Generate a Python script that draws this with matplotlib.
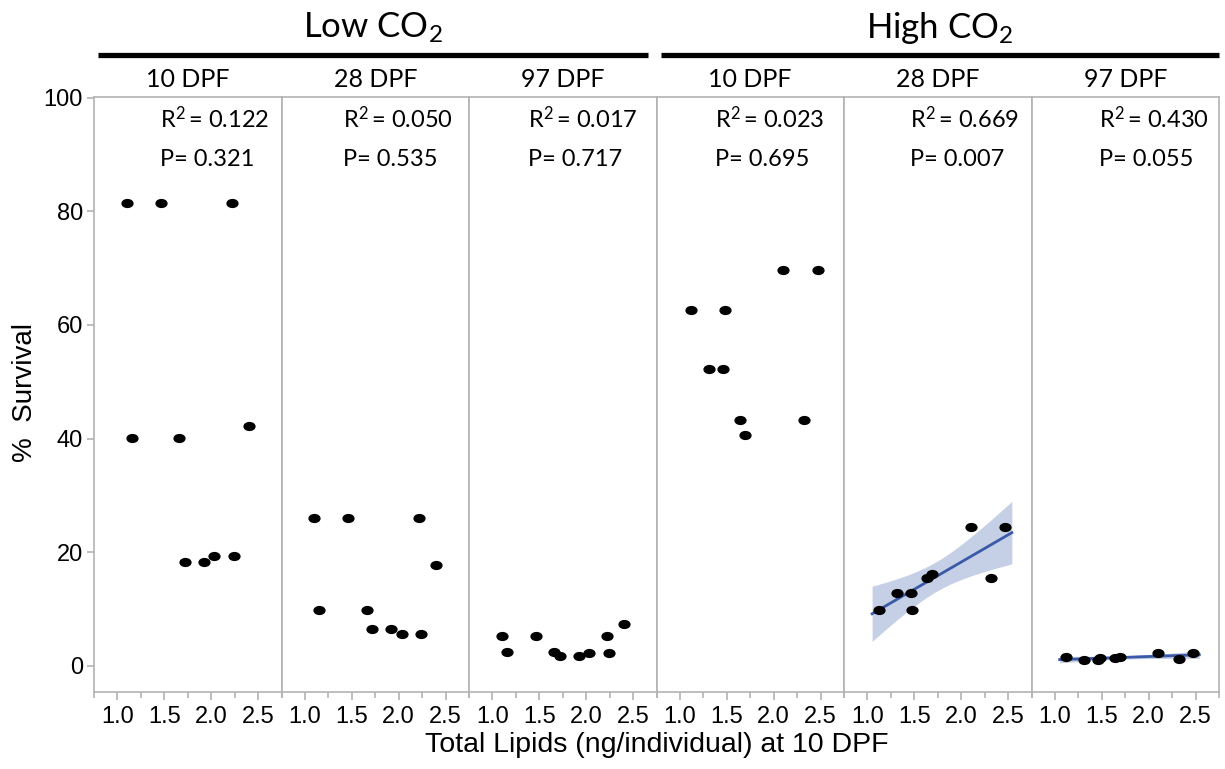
import numpy as np
import matplotlib
matplotlib.use("Agg")
import matplotlib.pyplot as plt
import matplotlib.transforms as mtrans
from matplotlib.path import Path
from matplotlib.lines import Line2D

plt.rcParams['mathtext.fontset'] = 'custom'
plt.rcParams['mathtext.rm'] = 'Lato'
plt.rcParams['mathtext.it'] = 'Lato:italic'
plt.rcParams['mathtext.bf'] = 'Lato:bold'

# ---------------- data ----------------
groups = ["Low CO$_\\mathregular{2}$", "High CO$_\\mathregular{2}$"]
stages = ["10 DPF", "28 DPF", "97 DPF"]

low_x = [1.10, 1.15, 1.46, 1.66, 1.72, 1.92, 2.03, 2.22, 2.24, 2.40]
low_10 = [81.4, 40.1, 81.4, 40.1, 18.3, 18.3, 19.3, 81.4, 19.3, 42.2]
low_28 = [26.1, 9.9, 26.1, 9.9, 6.5, 6.5, 5.6, 26.1, 5.6, 17.8]
low_97 = [5.2, 2.5, 5.2, 2.5, 1.7, 1.7, 2.2, 5.2, 2.2, 7.4]

high_x = [1.12, 1.31, 1.46, 1.48, 1.64, 1.69, 2.10, 2.32, 2.47]
high_10 = [62.6, 52.2, 52.2, 62.6, 43.3, 40.7, 69.6, 43.3, 69.6]
high_28 = [9.9, 12.8, 12.8, 9.9, 15.5, 16.1, 24.4, 15.5, 24.4]
high_97 = [1.5, 1.0, 1.0, 1.4, 1.3, 1.6, 2.2, 1.2, 2.2]

r2_vals = ["0.122", "0.050", "0.017", "0.023", "0.669", "0.430"]
p_vals = ["0.321", "0.535", "0.717", "0.695", "0.007", "0.055"]
show_fit = [False, False, False, False, True, True]

x_ticks = [1.0, 1.5, 2.0, 2.5]
y_ticks = [0, 20, 40, 60, 80, 100]

panels = [(low_x, low_10), (low_x, low_28), (low_x, low_97),
          (high_x, high_10), (high_x, high_28), (high_x, high_97)]
panel_labels = stages * 2

# ---------------- style ----------------
W, H = 1225, 769
fig = plt.figure(figsize=(W / 100, H / 100), dpi=100)
gray = '#b3b3b3'
line_col = '#3a5aa8'
band_col = '#c5cfe6'
T975_DF7 = 2.365

circ = Path.unit_circle()
ell = Path(circ.vertices * np.array([1.0, 0.72]), circ.codes)

left_px, right_px, top_px, bot_px = 94, 1219, 97, 692
pw = (right_px - left_px) / 6
text_off = [0.35, 0.33, 0.315, 0.31, 0.35, 0.36]

for i, (xs, ys) in enumerate(panels):
    ax = fig.add_axes([(left_px + i * pw) / W, 1 - bot_px / H, pw / W, (bot_px - top_px) / H])
    xs = np.array(xs); ys = np.array(ys)
    if show_fit[i]:
        n = len(xs)
        b, a = np.polyfit(xs, ys, 1)
        xf = np.linspace(xs.min() - 0.07, xs.max() + 0.07, 100)
        yf = a + b * xf
        resid = ys - (a + b * xs)
        s = np.sqrt(np.sum(resid ** 2) / (n - 2))
        sxx = np.sum((xs - xs.mean()) ** 2)
        hw = T975_DF7 * s * np.sqrt(1 / n + (xf - xs.mean()) ** 2 / sxx)
        ax.fill_between(xf, yf - hw, yf + hw, color=band_col, lw=0, zorder=1)
        ax.plot(xf, yf, color=line_col, lw=2.0, zorder=2)
    ax.plot(xs, ys, linestyle='none', marker=ell, markersize=7.8, color='black', zorder=3)

    ax.set_xlim(0.75, 2.75)
    ax.set_ylim(-4.6, 100.1)
    for sp in ax.spines.values():
        sp.set_color(gray)
        sp.set_linewidth(1.2)
    ax.set_xticks(x_ticks)
    ax.set_xticklabels([f"{t:.1f}" for t in x_ticks], fontname='Liberation Sans', fontsize=17)
    ax.set_xticks([0.75, 1.25, 1.75, 2.25, 2.75], minor=True)
    ax.tick_params(axis='x', which='major', length=6, width=1.2, color=gray, pad=4)
    ax.tick_params(axis='x', which='minor', length=4, width=1.2, color=gray)
    if i == 0:
        ax.set_yticks(y_ticks)
        ax.set_yticklabels([str(t) for t in y_ticks], fontname='Liberation Sans', fontsize=17)
        ax.tick_params(axis='y', length=5, width=1.2, color=gray, pad=3)
    else:
        ax.set_yticks([])
    tr = mtrans.blended_transform_factory(ax.transAxes, ax.transData)
    ax.text(text_off[i], 94.6, "R$^\\mathregular{2}$$\\,$= " + r2_vals[i], fontname='Lato',
            fontsize=17, ha='left', va='baseline', transform=tr)
    ax.text(text_off[i], 87.9, "P= " + p_vals[i], fontname='Lato', fontsize=17,
            ha='left', va='baseline', transform=tr)
    # panel header
    cx = (left_px + (i + 0.5) * pw) / W
    fig.text(cx, 1 - 87 / H, panel_labels[i], fontname='Lato', fontsize=18,
             ha='center', va='baseline')

# group headers and bars
bars = [(98, 648), (661, 1219)]
for g, (x0, x1) in zip(groups, bars):
    fig.add_artist(Line2D([x0 / W, x1 / W], [1 - 55 / H, 1 - 55 / H], color='black',
                          lw=3.8, solid_capstyle='butt'))
    fig.text((x0 + x1) / 2 / W, 1 - 38 / H, g, fontname='Lato', fontsize=25,
             ha='center', va='baseline')

fig.text((left_px + right_px) / 2 / W, 1 - 752 / H, "Total Lipids (ng/individual) at 10 DPF",
         fontname='Liberation Sans', fontsize=20.5, ha='center', va='baseline')
fig.text(25 / W, 1 - 392 / H, "%  Survival", fontname='Liberation Sans', fontsize=20,
         rotation=90, ha='center', va='center')

fig.savefig("out.png", dpi=100)
